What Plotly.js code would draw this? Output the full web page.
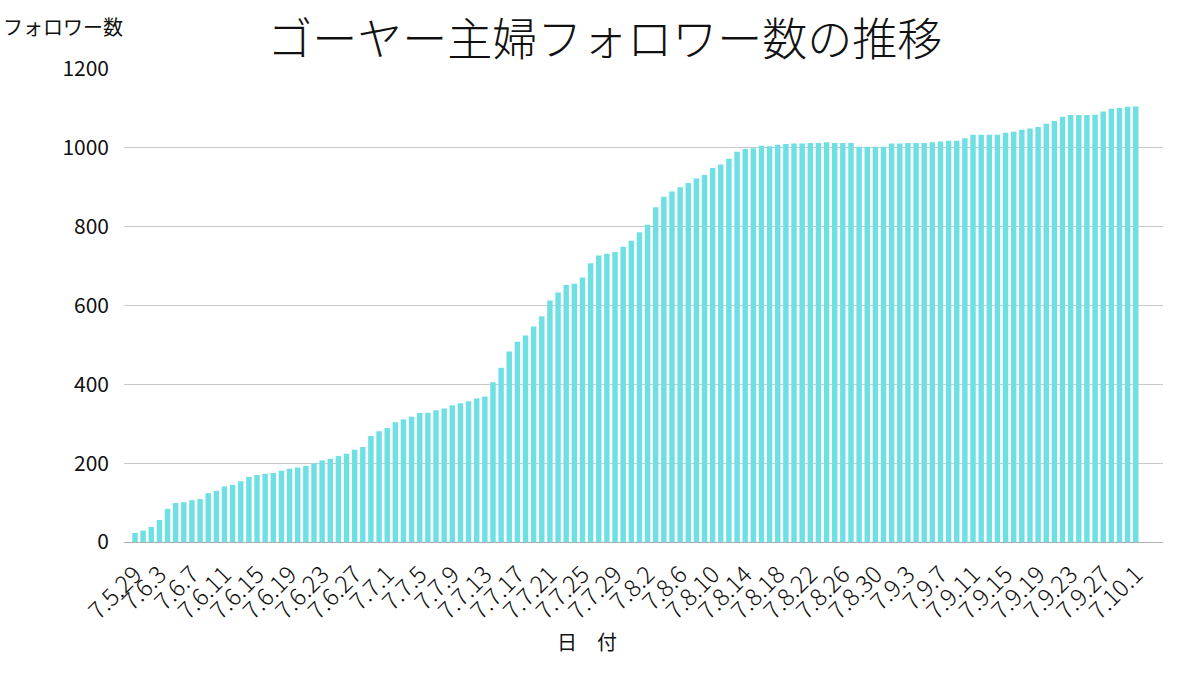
<!DOCTYPE html>
<html>
<head>
<meta charset="utf-8">
<script src="https://cdn.plot.ly/plotly-3.0.1.min.js"></script>
<style>
  html, body { margin: 0; padding: 0; background: #fff; }
  #chart { width: 1200px; height: 675px; }
</style>
</head>
<body>
<div id="chart"></div>
<script>
CHART = document.getElementById('chart');

// 日付 (令和7年)
let dates = [
    '7.5.29', '7.6.1', '7.6.2',
    '7.6.3', '7.6.4', '7.6.5', '7.6.6', '7.6.7', '7.6.8', '7.6.9', '7.6.10',
    '7.6.11', '7.6.12', '7.6.13', '7.6.14', '7.6.15', '7.6.16', '7.6.17', '7.6.18',
    '7.6.19', '7.6.20', '7.6.21', '7.6.22', '7.6.23', '7.6.24', '7.6.25', '7.6.26',
    '7.6.27', '7.6.28', '7.6.29', '7.6.30',
    '7.7.1', '7.7.2', '7.7.3', '7.7.4', '7.7.5', '7.7.6', '7.7.7', '7.7.8',
    '7.7.9', '7.7.10', '7.7.11', '7.7.12', '7.7.13', '7.7.14', '7.7.15', '7.7.16',
    '7.7.17', '7.7.18', '7.7.19', '7.7.20', '7.7.21', '7.7.22', '7.7.23', '7.7.24',
    '7.7.25', '7.7.26', '7.7.27', '7.7.28', '7.7.29', '7.7.30', '7.7.31',
    '7.8.1', '7.8.2', '7.8.3', '7.8.4', '7.8.5', '7.8.6', '7.8.7', '7.8.8',
    '7.8.9', '7.8.10', '7.8.11', '7.8.12', '7.8.13', '7.8.14', '7.8.15', '7.8.16',
    '7.8.17', '7.8.18', '7.8.19', '7.8.20', '7.8.21', '7.8.22', '7.8.23', '7.8.24',
    '7.8.25', '7.8.26', '7.8.27', '7.8.28', '7.8.29', '7.8.30', '7.8.31',
    '7.9.1', '7.9.2', '7.9.3', '7.9.4', '7.9.5', '7.9.6', '7.9.7', '7.9.8',
    '7.9.9', '7.9.10', '7.9.11', '7.9.12', '7.9.13', '7.9.14', '7.9.15', '7.9.16',
    '7.9.17', '7.9.18', '7.9.19', '7.9.20', '7.9.21', '7.9.22', '7.9.23', '7.9.24',
    '7.9.25', '7.9.26', '7.9.27', '7.9.28', '7.9.29', '7.9.30',
    '7.10.1'
];

// フォロワー数
let followers = [
    23, 29, 38, 56, 84, 99, 101, 106, 109, 124,
    130, 141, 145, 154, 165, 170, 173, 175, 181, 186,
    189, 193, 199, 207, 211, 218, 224, 234, 241, 269,
    281, 289, 304, 311, 318, 327, 328, 334, 339, 347,
    352, 357, 364, 369, 405, 442, 483, 508, 524, 547,
    573, 613, 633, 652, 655, 671, 707, 727, 731, 736,
    749, 764, 786, 805, 849, 876, 889, 900, 911, 922,
    931, 949, 958, 972, 990, 997, 999, 1005, 1004, 1008,
    1010, 1011, 1011, 1012, 1012, 1014, 1012, 1012, 1012, 1003,
    1003, 1003, 1003, 1011, 1011, 1012, 1012, 1012, 1014, 1016,
    1018, 1018, 1024, 1033, 1033, 1033, 1033, 1038, 1041, 1046,
    1049, 1053, 1061, 1068, 1079, 1083, 1083, 1083, 1084, 1092,
    1099, 1101, 1104, 1105
];

// x axis labels shown
let tickLabels = [
    '7.5.29', '7.6.3', '7.6.7', '7.6.11', '7.6.15', '7.6.19', '7.6.23', '7.6.27',
    '7.7.1', '7.7.5', '7.7.9', '7.7.13', '7.7.17', '7.7.21', '7.7.25', '7.7.29',
    '7.8.2', '7.8.6', '7.8.10', '7.8.14', '7.8.18', '7.8.22', '7.8.26', '7.8.30',
    '7.9.3', '7.9.7', '7.9.11', '7.9.15', '7.9.19', '7.9.23', '7.9.27', '7.10.1'
];

let yTicks = [0, 200, 400, 600, 800, 1000, 1200];

const FONT = '"Noto Sans CJK JP", "Noto Sans", sans-serif';

var bars = {
    x: dates,
    y: followers,
    type: 'bar',
    marker: { color: 'rgb(110,224,228)' },
    hovertemplate: '%{x}: %{y}<extra></extra>'
};

var layout = {
    width: 1200,
    height: 675,
    margin: { l: 124, r: 37, t: 69, b: 133 },
    paper_bgcolor: '#fff',
    plot_bgcolor: '#fff',
    showlegend: false,
    bargap: 0.33,
    font: { family: FONT, color: '#222' },
    title: {
        text: 'ゴーヤー主婦フォロワー数の推移',
        font: { family: FONT, size: 45, color: '#111', weight: 300 },
        x: 0.504,
        xanchor: 'center',
        y: 0.94,
        yanchor: 'middle'
    },
    xaxis: {
        type: 'category',
        range: [-1.35, 126.35],
        tickmode: 'array',
        tickvals: tickLabels,
        ticktext: tickLabels,
        tickangle: -45,
        tickfont: { family: FONT, size: 24, color: '#111', weight: 300 },
        ticklabelstandoff: 8,
        showgrid: false,
        showline: true,
        linecolor: '#b0b0b0',
        linewidth: 1,
        ticks: '',
        fixedrange: true
    },
    yaxis: {
        range: [0, 1200],
        tickmode: 'array',
        tickvals: yTicks,
        ticktext: yTicks.map(String),
        tickfont: { family: FONT, size: 21, color: '#111' },
        showgrid: true,
        gridcolor: '#c8c8c8',
        gridwidth: 1,
        zeroline: false,
        showline: false,
        ticks: '',
        ticklabelstandoff: 14,
        fixedrange: true
    },
    annotations: [
        {
            text: 'フォロワー数',
            xref: 'paper', yref: 'paper',
            x: -0.118, y: 1.09,
            xanchor: 'left', yanchor: 'middle',
            showarrow: false,
            font: { family: FONT, size: 20, color: '#111' }
        },
        {
            text: '日　付',
            xref: 'paper', yref: 'paper',
            x: 0.446, y: -0.21,
            xanchor: 'center', yanchor: 'middle',
            showarrow: false,
            font: { family: FONT, size: 20, color: '#111' }
        }
    ]
};

Plotly.newPlot(CHART, [bars], layout, { displayModeBar: false, staticPlot: true });
</script>
</body>
</html>
